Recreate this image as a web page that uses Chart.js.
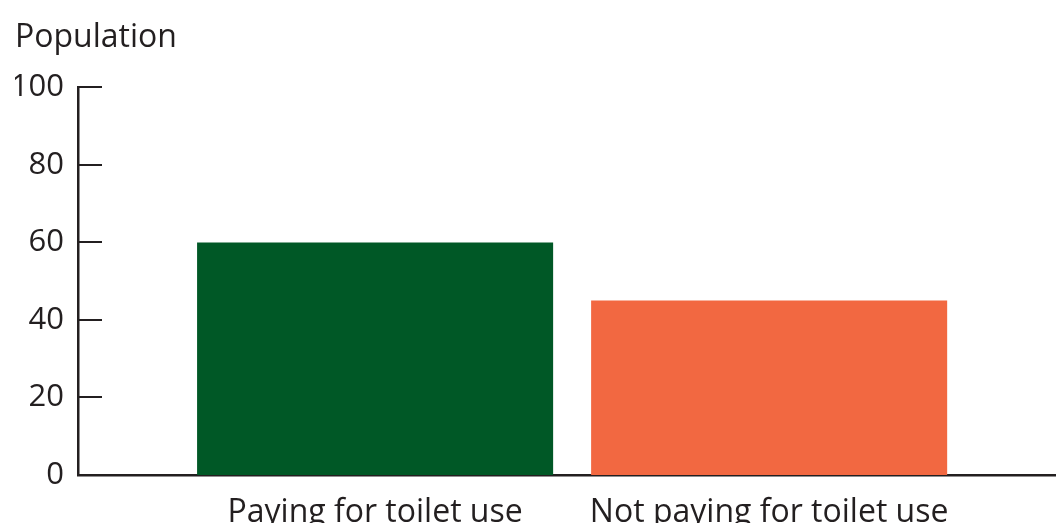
<!DOCTYPE html>
<html>
<head>
<meta charset="utf-8">
<script src="https://cdn.jsdelivr.net/npm/chart.js@4"></script>
<style>
html,body{margin:0;padding:0;background:#fff;}
#wrap{width:1056px;height:523px;position:relative;}
</style>
</head>
<body>
<div id="wrap"><canvas id="c"></canvas></div>
<script>
const categories = ["Paying for toilet use", "Not paying for toilet use"];
const population = [60, 45];
const barColors = ["#005826", "#f26841"];
const yTicks = [0, 20, 40, 60, 80, 100];

const INK = "#231f20";
const FONT = "'Open Sans', sans-serif";

const innerTicks = {
  id: "innerTicks",
  afterDraw(chart) {
    const y = chart.scales.y, a = chart.chartArea, ctx = chart.ctx;
    ctx.save();
    ctx.strokeStyle = INK;
    ctx.lineWidth = 2;
    y.ticks.forEach(t => {
      const py = Math.round(y.getPixelForValue(t.value));
      ctx.beginPath();
      ctx.moveTo(a.left, py);
      ctx.lineTo(a.left + 24, py);
      ctx.stroke();
    });
    ctx.restore();
  }
};

new Chart(document.getElementById("c"), {
  type: "bar",
  data: {
    datasets: [{
      data: population.map((v, i) => ({ x: i, y: v })),
      backgroundColor: barColors,
      borderWidth: 0,
      barPercentage: 0.9036,
      categoryPercentage: 1
    }]
  },
  options: {
    responsive: true,
    maintainAspectRatio: false,
    animation: false,
    layout: { padding: { left: 15, right: 0, top: 0, bottom: 0 } },
    plugins: {
      legend: { display: false },
      tooltip: { enabled: false },
      title: {
        display: true,
        text: "Population",
        align: "start",
        color: INK,
        font: { family: FONT, size: 32, weight: "normal" },
        padding: { top: 19, bottom: 30 }
      }
    },
    scales: {
      x: {
        type: "linear",
        offset: false,
        min: -0.754,
        max: 1.728,
        afterBuildTicks: s => { s.ticks = categories.map((c, i) => ({ value: i })); },
        afterFit: s => { s.height = 48; },
        grid: { display: false, drawTicks: false },
        border: { display: true, color: INK, width: 2.5 },
        ticks: {
          color: INK,
          padding: 19,
          maxRotation: 0,
          autoSkip: false,
          font: { family: FONT, size: 32 },
          callback: v => categories[v]
        }
      },
      y: {
        min: 0,
        max: 100,
        afterBuildTicks: s => { s.ticks = yTicks.map(v => ({ value: v })); },
        afterFit: s => { s.width = 63; },
        grid: { display: false, drawTicks: false },
        border: { display: true, color: INK, width: 2.5 },
        ticks: {
          color: INK,
          padding: 14,
          font: { family: FONT, size: 31 }
        }
      }
    }
  },
  plugins: [innerTicks]
});
</script>
</body>
</html>
